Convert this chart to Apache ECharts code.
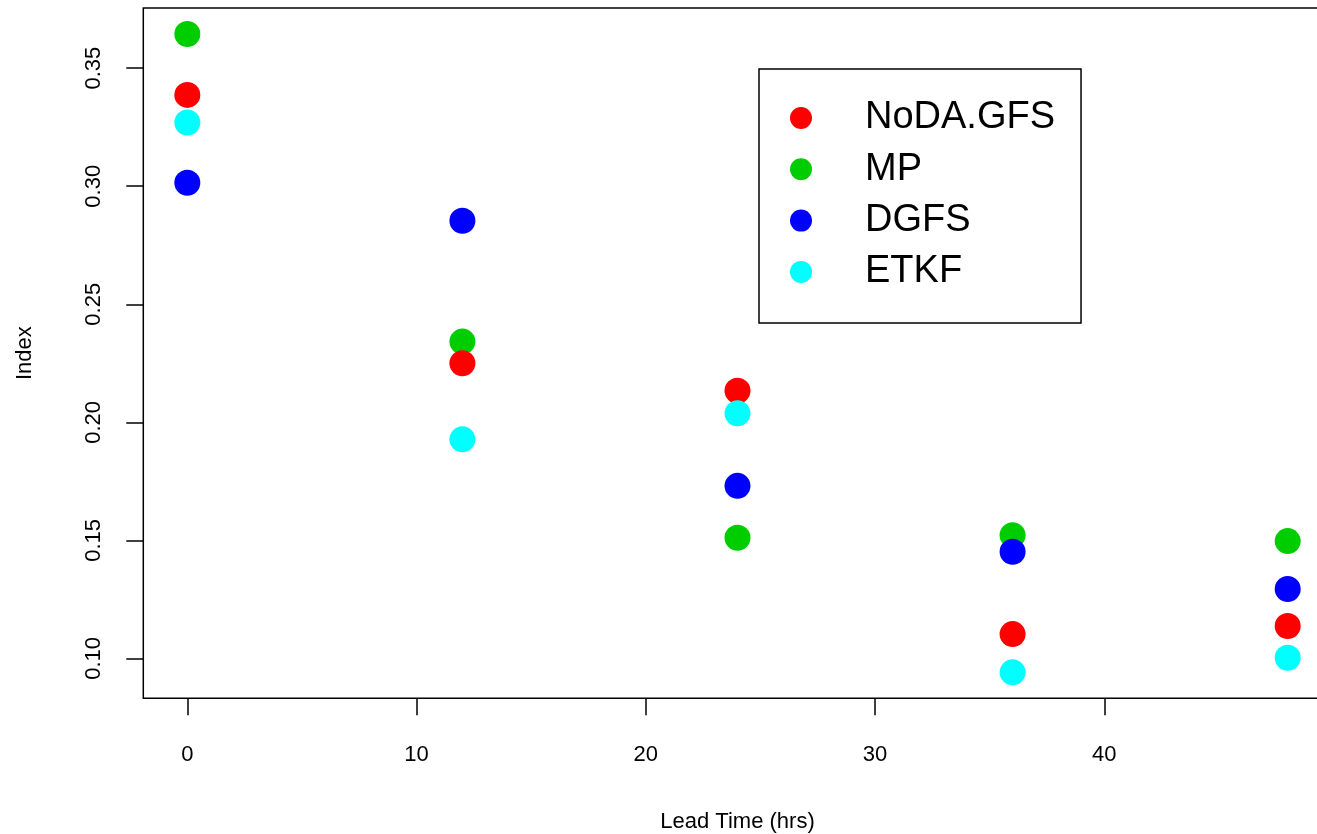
<!DOCTYPE html>
<html>
<head>
<meta charset="utf-8">
<script src="https://cdn.jsdelivr.net/npm/echarts@6/dist/echarts.min.js"></script>
<style>
html,body{margin:0;padding:0;background:#fff;}
#chart{width:1317px;height:834px;}
</style>
</head>
<body>
<div id="chart"></div>
<script>
// Data
const leadTimes = [0, 12, 24, 36, 48];
const seriesNames = ['NoDA.GFS', 'MP', 'DGFS', 'ETKF'];
const nodaGFS = [0.3387, 0.2250, 0.2134, 0.1103, 0.1137];
const mp      = [0.3645, 0.2342, 0.1511, 0.1522, 0.1497];
const dgfs    = [0.3015, 0.2854, 0.1731, 0.1452, 0.1294];
const etkf    = [0.3270, 0.1928, 0.2038, 0.0941, 0.1003];
const xTicks = [0, 10, 20, 30, 40];
const yTicks = [0.10, 0.15, 0.20, 0.25, 0.30, 0.35];

const FONT = '"Liberation Sans", Arial, Helvetica, sans-serif';
const colors = {'NoDA.GFS': '#FF0000', 'MP': '#00CD00', 'DGFS': '#0000FF', 'ETKF': '#00FFFF'};
const valuesByName = {'NoDA.GFS': nodaGFS, 'MP': mp, 'DGFS': dgfs, 'ETKF': etkf};
// drawing order (later drawn on top)
const drawOrder = ['MP', 'NoDA.GFS', 'DGFS', 'ETKF'];

const chart = echarts.init(document.getElementById('chart'), null, {renderer: 'canvas'});
chart.setOption({
  backgroundColor: '#ffffff',
  animation: false,
  textStyle: {fontFamily: FONT},
  grid: {
    left: 143.3, top: 8, width: 1188.4, height: 690.3,
    containLabel: false, outerBoundsMode: 'none',
    show: true, borderColor: '#000', borderWidth: 1.5, backgroundColor: 'transparent'
  },
  legend: {
    data: seriesNames,
    orient: 'vertical',
    left: 759, top: 69,
    padding: [30, 26, 32, 31],
    itemWidth: 22, itemHeight: 22, itemGap: 13.3,
    icon: 'circle',
    borderColor: '#000', borderWidth: 1.5,
    backgroundColor: '#fff',
    textStyle: {fontFamily: FONT, fontSize: 38, color: '#000', padding: [0, 0, 0, 48]}
  },
  xAxis: {
    type: 'value', min: -1.92, max: 49.92,
    name: 'Lead Time (hrs)', nameLocation: 'middle', nameGap: 113,
    nameTextStyle: {fontFamily: FONT, fontSize: 22, color: '#000'},
    axisLine: {show: false, onZero: false},
    splitLine: {show: false},
    axisTick: {show: true, customValues: xTicks, length: 17, lineStyle: {color: '#000', width: 1.5}},
    axisLabel: {customValues: xTicks, margin: 46, fontFamily: FONT, fontSize: 22, color: '#000'}
  },
  yAxis: {
    type: 'value', min: 0.0831, max: 0.3755,
    name: 'Index', nameLocation: 'middle', nameGap: 107,
    nameTextStyle: {fontFamily: FONT, fontSize: 22, color: '#000'},
    axisLine: {show: false, onZero: false},
    splitLine: {show: false},
    axisTick: {show: true, customValues: yTicks, length: 17, lineStyle: {color: '#000', width: 1.5}},
    axisLabel: {customValues: yTicks, rotate: 90, margin: 38, fontFamily: FONT, fontSize: 22, color: '#000',
      formatter: v => v.toFixed(2)}
  },
  series: drawOrder.map(name => ({
    name: name,
    type: 'scatter',
    symbol: 'circle',
    symbolSize: 26,
    itemStyle: {color: colors[name], opacity: 1},
    data: leadTimes.map((t, i) => [t, valuesByName[name][i]])
  }))
});
</script>
</body>
</html>
